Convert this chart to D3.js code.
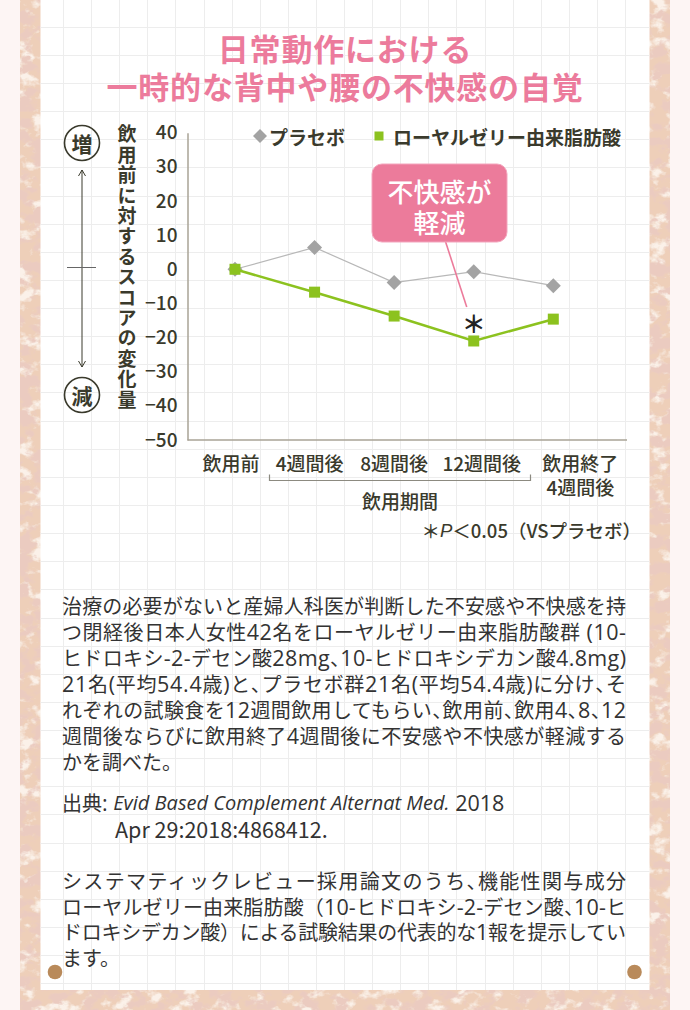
<!DOCTYPE html>
<html><head><meta charset="utf-8">
<script src="https://cdn.jsdelivr.net/npm/d3@7/dist/d3.min.js"></script>
<style>
html,body{margin:0;padding:0;background:#fdf5f4;}
svg{display:block;}
text{font-family:"Noto Sans CJK JP","Noto Sans",sans-serif;}
</style></head>
<body><div id="chart"></div>
<script>
// ---- data ----
const categories = ["飲用前","4週間後","8週間後","12週間後","飲用終了4週間後"];
const categoryLines = [["飲用前"],["4週間後"],["8週間後"],["12週間後"],["飲用終了","4週間後"]];
const placebo = [0, 6.4, -3.9, -0.7, -4.8];
const royalJelly = [0, -6.7, -13.7, -21, -14.6];
const yTicks = [40, 30, 20, 10, 0, -10, -20, -30, -40, -50];
const seriesNames = ["プラセボ", "ローヤルゼリー由来脂肪酸"];
const titleLines = ["日常動作における", "一時的な背中や腰の不快感の自覚"];
const yTitle = "飲用前に対するスコアの変化量";
const calloutLines = ["不快感が", "軽減"];
const periodLabel = "飲用期間";
const bodyPara1 = [
 "治療の必要がないと産婦人科医が判断した不安感や不快感を持",
 "つ閉経後日本人女性42名をローヤルゼリー由来脂肪酸群 (10-",
 "ヒドロキシ-2-デセン酸28mg、10-ヒドロキシデカン酸4.8mg)",
 "21名(平均54.4歳)と、プラセボ群21名(平均54.4歳)に分け、そ",
 "れぞれの試験食を12週間飲用してもらい、飲用前、飲用4、8、12",
 "週間後ならびに飲用終了4週間後に不安感や不快感が軽減する",
 "かを調べた。"
];
const bodyPara3 = [
 "システマティックレビュー採用論文のうち、機能性関与成分",
 "ローヤルゼリー由来脂肪酸（10-ヒドロキシ-2-デセン酸、10-ヒ",
 "ドロキシデカン酸）による試験結果の代表的な1報を提示してい",
 "ます。"
];

// ---- layout ----
const W = 690, H = 1010;
const svg = d3.select("#chart").append("svg").attr("width", W).attr("height", H);
const defs = svg.append("defs");
const f = defs.append("filter").attr("id","cork").attr("filterUnits","userSpaceOnUse")
  .attr("x",0).attr("y",0).attr("width",W).attr("height",H);
f.append("feTurbulence").attr("type","fractalNoise").attr("baseFrequency","0.06 0.08")
  .attr("numOctaves",4).attr("seed",11).attr("result","noise");
f.append("feColorMatrix").attr("in","noise").attr("type","matrix")
  .attr("values","0 0 0 0 0.83  0 0 0 0 0.60  0 0 0 0 0.53  7 0 0 0 -3.4").attr("result","spots");
f.append("feColorMatrix").attr("in","noise").attr("type","matrix")
  .attr("values","0 0 0 0 0.96  0 0 0 0 0.88  0 0 0 0 0.81  0 5 0 0 -2.6").attr("result","light");
f.append("feFlood").attr("flood-color","#eecfb9").attr("result","base");
const mg = f.append("feMerge").attr("result","m");
mg.append("feMergeNode").attr("in","base");
mg.append("feMergeNode").attr("in","light");
mg.append("feMergeNode").attr("in","spots");
f.append("feComposite").attr("in","m").attr("in2","SourceGraphic").attr("operator","in");

// background
svg.append("rect").attr("width",W).attr("height",H).attr("fill","#fdf5f4");
svg.append("rect").attr("x",20).attr("y",0).attr("width",650).attr("height",H)
  .attr("fill","#000").attr("filter","url(#cork)");
const panel = {x0:40.5, x1:649.5, y0:0, y1:990};
svg.append("rect").attr("x",panel.x0).attr("y",0).attr("width",panel.x1-panel.x0).attr("height",panel.y1)
  .attr("fill","#ffffff");

// grid
const grid = svg.append("g").attr("stroke","#ededed").attr("stroke-width",1);
const gx = d3.range(0, 21).map(k => 63 + 28.1*k);
const gy = d3.range(-4, 31).map(k => 139.3 + 28.13*k);
grid.selectAll("line.v").data(gx).join("line").attr("class","v")
  .attr("x1",d=>Math.round(d)+0.5).attr("x2",d=>Math.round(d)+0.5).attr("y1",0).attr("y2",panel.y1);
grid.selectAll("line.h").data(gy).join("line").attr("class","h")
  .attr("y1",d=>Math.round(d)+0.5).attr("y2",d=>Math.round(d)+0.5).attr("x1",panel.x0).attr("x2",panel.x1);

// corner dots
svg.selectAll("circle.pin").data([55, 634.5]).join("circle").attr("class","pin")
  .attr("cx",d=>d).attr("cy",972).attr("r",7.3).attr("fill","#b98a5a");

// title
svg.selectAll("text.title").data(titleLines).join("text").attr("class","title")
  .attr("x",345).attr("y",(d,i)=>47+i*38.5).attr("text-anchor","middle").attr("dominant-baseline","central")
  .attr("font-size",31).attr("font-weight",700).attr("letter-spacing",0.8).attr("fill","#ec7b9c").text(d=>d);

// scales
const y = d3.scaleLinear().domain([-50, 40]).range([440, 132.7]);
const x = d3.scalePoint().domain(categories).range([235, 553.3]);
const ink = "#3a3a2c";

// y axis
const yAxis = svg.append("g").attr("transform","translate(187.5,0)")
  .call(d3.axisLeft(y).tickValues(yTicks).tickSize(0).tickSizeOuter(0).tickPadding(10));
yAxis.select(".domain").attr("stroke","#a9a396").attr("stroke-width",1.5);
yAxis.selectAll("text").attr("font-size",19).attr("font-weight",500).attr("fill",ink)
  .attr("font-family","'Noto Sans CJK JP',sans-serif");
// x axis line
svg.append("line").attr("x1",187.5).attr("x2",627).attr("y1",y(-50)).attr("y2",y(-50))
  .attr("stroke","#a9a396").attr("stroke-width",1.5);

// category labels
const labelDx = [-4, -5, 0, 8, 27];
const cl = svg.append("g").attr("font-size",19).attr("font-weight",500).attr("fill",ink).attr("text-anchor","middle");
categoryLines.forEach((lines,i)=>{
  const t = cl.append("text").attr("x", x(categories[i]) + labelDx[i]).attr("y", 462).attr("dominant-baseline","central");
  lines.forEach((ln,j)=> t.append("tspan").attr("x", x(categories[i]) + labelDx[i]).attr("y", 462 + j*23.5).text(ln));
});
// bracket
const bx0 = 269.5, bx1 = 530.5, by = 480.5;
svg.append("path").attr("d",`M${bx0},${by-6}V${by}H${bx1}V${by-6}`).attr("fill","none")
  .attr("stroke","#8c8a80").attr("stroke-width",1.2);
svg.append("text").attr("x",(bx0+bx1)/2).attr("y",500).attr("text-anchor","middle").attr("dominant-baseline","central")
  .attr("font-size",19).attr("font-weight",500).attr("fill",ink).text(periodLabel);
// p-value note
const note = svg.append("text").attr("x",641).attr("y",530).attr("text-anchor","end").attr("dominant-baseline","central")
  .attr("font-size",18.5).attr("font-weight",500).attr("fill",ink);
note.append("tspan").text("＊");
note.append("tspan").attr("font-style","italic").attr("font-family","'Liberation Sans',sans-serif").text("P");
note.append("tspan").text("＜0.05（VSプラセボ）");

// left indicator
const lg = svg.append("g").attr("stroke",ink).attr("fill","none");
lg.append("circle").attr("cx",82).attr("cy",143).attr("r",17.5).attr("stroke-width",1.6);
lg.append("circle").attr("cx",82).attr("cy",395).attr("r",17.5).attr("stroke-width",1.6);
lg.append("line").attr("x1",82).attr("x2",82).attr("y1",170).attr("y2",367).attr("stroke-width",1);
lg.append("path").attr("d","M78.5,176L82,170L85.5,176").attr("stroke-width",1);
lg.append("path").attr("d","M78.5,361L82,367L85.5,361").attr("stroke-width",1);
lg.append("line").attr("x1",67).attr("x2",96).attr("y1",267.5).attr("y2",267.5).attr("stroke-width",1).attr("stroke","#666");
svg.selectAll("text.ind").data([["増",143],["減",395]]).join("text").attr("class","ind")
  .attr("x",82).attr("y",d=>d[1]).attr("text-anchor","middle").attr("dominant-baseline","central")
  .attr("font-size",21).attr("font-weight",700).attr("fill",ink).text(d=>d[0]);

// y title (vertical)
svg.append("text").attr("x",127).attr("y",267.5).attr("text-anchor","middle")
  .style("writing-mode","vertical-rl").attr("font-size",19).attr("font-weight",700)
  .attr("letter-spacing",1.4).attr("fill",ink).text(yTitle);

// legend
const green = "#8cc21f", gray = "#a3a3a3";
svg.append("path").attr("d","M260,129L267,136L260,143L253,136Z").attr("fill",gray);
svg.append("text").attr("x",269).attr("y",136).attr("dominant-baseline","central").attr("font-size",19)
  .attr("font-weight",700).attr("fill",ink).text(seriesNames[0]);
svg.append("rect").attr("x",374.5).attr("y",131.5).attr("width",9).attr("height",9).attr("fill",green);
svg.append("text").attr("x",393).attr("y",136).attr("dominant-baseline","central").attr("font-size",19)
  .attr("font-weight",700).attr("fill",ink).text(seriesNames[1]);

// lines
const line = d3.line().x((d,i)=>x(categories[i])).y(d=>y(d));
svg.append("path").datum(placebo).attr("d",line).attr("fill","none").attr("stroke","#b8b8b8").attr("stroke-width",1.2);
svg.selectAll("path.dia").data(placebo).join("path").attr("class","dia")
  .attr("d",(d,i)=>{const cx=x(categories[i]), cy=y(d); return `M${cx},${cy-7.5}L${cx+7.5},${cy}L${cx},${cy+7.5}L${cx-7.5},${cy}Z`;})
  .attr("fill",gray);
svg.append("path").datum(royalJelly).attr("d",line).attr("fill","none").attr("stroke",green).attr("stroke-width",2.6);
svg.selectAll("rect.sq").data(royalJelly).join("rect").attr("class","sq")
  .attr("x",(d,i)=>x(categories[i])-5.5).attr("y",d=>y(d)-5.5).attr("width",11).attr("height",11).attr("fill",green);

// significance asterisk
const sx = x(categories[3]), sy = y(royalJelly[3]);
svg.append("text").attr("x",sx).attr("y",sy-18).attr("text-anchor","middle").attr("dominant-baseline","central")
  .attr("font-size",24).attr("font-weight",700).attr("fill","#222").text("＊");

// callout
const pink = "#ec7b9b";
svg.append("line").attr("x1",445).attr("y1",240).attr("x2",sx-7).attr("y2",sy-34)
  .attr("stroke",pink).attr("stroke-width",1.6);
svg.append("rect").attr("x",372).attr("y",164).attr("width",135).attr("height",78).attr("rx",10)
  .attr("fill",pink).attr("stroke","#f3a6bd").attr("stroke-width",1);
svg.selectAll("text.call").data(calloutLines).join("text").attr("class","call")
  .attr("x",439.5).attr("y",(d,i)=>190+i*31.5).attr("text-anchor","middle").attr("dominant-baseline","central")
  .attr("font-size",26).attr("font-weight",500).attr("fill","#ffffff").text(d=>d);

// body text
const latinFont = "'Open Sans',Roboto,sans-serif";
const bt = svg.append("g").attr("font-size",20).attr("fill","#333333");
function richLine(parent, str, xx, yy, justify) {
  const t = parent.append("text").attr("x",xx).attr("y",yy).attr("dominant-baseline","central");
  const parts = str.match(/[\x20-\x7E]+|、|[^\x20-\x7E、]+/g);
  parts.forEach(p=>{
    const s = t.append("tspan").text(p);
    if (/^[\x20-\x7E]+$/.test(p)) s.attr("font-family",latinFont).attr("font-size",21.5);
    else if (p === "、") s.style("font-feature-settings","'halt' 1");
  });
  if (justify) t.attr("textLength",justify).attr("lengthAdjust","spacing");
  return t;
}
bodyPara1.forEach((ln,i)=> richLine(bt, ln, 62, 605+i*26, i < bodyPara1.length-1 ? 564 : null));
const src = bt.append("text").attr("x",62).attr("y",802).attr("dominant-baseline","central");
src.append("tspan").text("出典");
src.append("tspan").attr("font-family",latinFont).attr("font-size",21.5).text(": ");
src.append("tspan").attr("font-family","'Open Sans',sans-serif").attr("font-style","italic").attr("font-size",20).text("Evid Based Complement Alternat Med.");
src.append("tspan").attr("font-family",latinFont).attr("font-size",21.5).text(" 2018");
bt.append("text").attr("x",115).attr("y",828).attr("dominant-baseline","central")
  .attr("font-family",latinFont).attr("font-size",21.5).text("Apr 29:2018:4868412.");
bodyPara3.forEach((ln,i)=> richLine(bt, ln, 62, 880+i*25.7, i < bodyPara3.length-1 ? 564 : null));
</script>
</body></html>
